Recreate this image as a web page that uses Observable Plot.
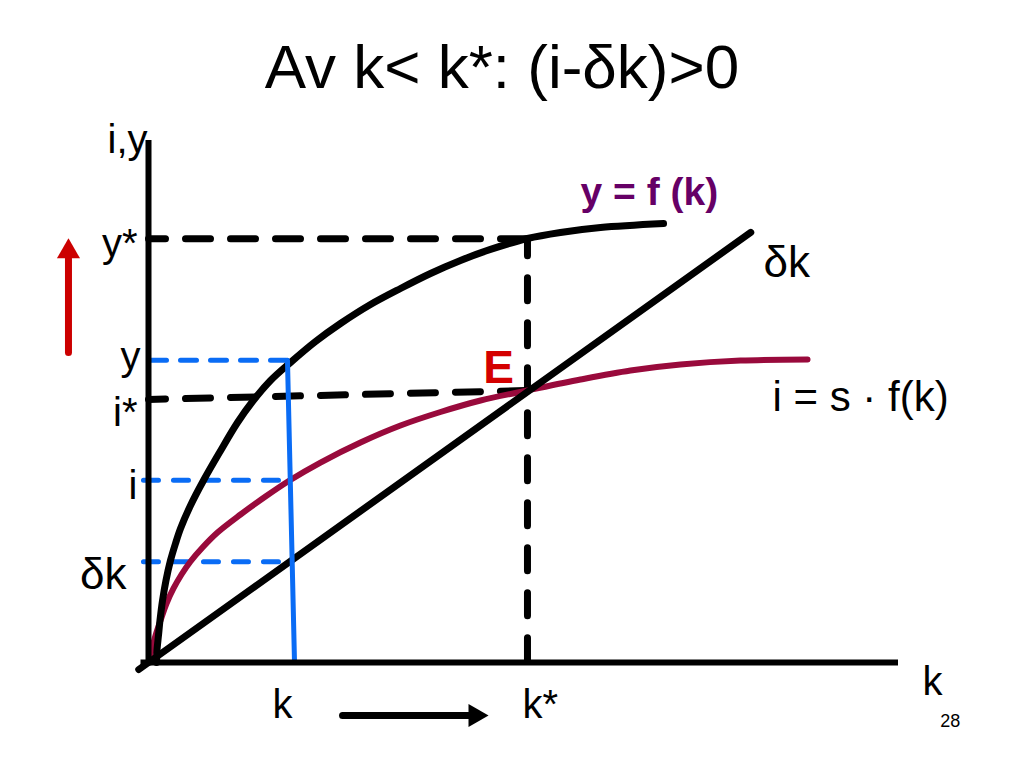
<!DOCTYPE html>
<html>
<head>
<meta charset="utf-8">
<script src="https://cdn.jsdelivr.net/npm/d3@7"></script>
<script src="https://cdn.jsdelivr.net/npm/@observablehq/plot@0.6"></script>
<style>
  body { margin: 0; background: #fff; font-family: "Liberation Sans", Arial, sans-serif; }
  #title { height: 110px; box-sizing: border-box; padding-top: 36px; padding-right: 20px;
           font-size: 62px; line-height: 62px; text-align: center; color: #000; white-space: nowrap; }
  #chart svg { display: block; }
</style>
</head>
<body>
<div id="title">Av k&lt; k*: (i-δk)&gt;0</div>
<div id="chart"></div>
<script>
// ---- data (k on x, i/y on y, arbitrary units) ----
const production = [[0.107,0],[0.113,0.23],[0.133,0.517],[0.153,0.805],[0.187,1.188],[0.233,1.571],[0.293,1.954],[0.36,2.28],[0.427,2.567],[0.56,3.008],[0.733,3.487],[0.947,4.023],[1.187,4.598],[1.387,5.0],[1.627,5.402],[1.893,5.747],[2.227,6.149],[2.56,6.494],[2.96,6.858],[3.36,7.165],[3.76,7.452],[4.16,7.701],[4.56,7.913],[5.053,8.123],[5.493,8.238],[6.027,8.333],[6.867,8.41]];
const investment = [[0,0],[0.04,0.23],[0.093,0.517],[0.16,0.805],[0.24,1.13],[0.333,1.418],[0.44,1.686],[0.56,1.935],[0.72,2.203],[0.92,2.49],[1.227,2.835],[1.56,3.18],[1.88,3.487],[2.293,3.831],[2.827,4.215],[3.36,4.54],[3.893,4.799],[4.427,5.019],[5.053,5.211],[5.76,5.421],[6.427,5.594],[7.093,5.709],[7.893,5.785],[8.787,5.805]];
const depreciation = [[-0.13,-0.134],[8.03,8.24]];

const kStar = 5.053, yStar = 8.12, iStarLeft = 5.04, iStarRight = 5.21;
const kNow = 1.853, kNowBase = 1.947;
const yNow = 5.79, iNow = 3.49, dkNow = 1.93;

const yTickLabels = ["y*", "y", "i*", "i", "δk"];
const yTickValues = [yStar, yNow, iStarLeft, iNow, dkNow];
const xTickLabels = ["k", "k*"];
const xTickValues = [kNow, kStar];

const labelDk = [{text: "δk", k: 8.2, v: 7.66}];
const labelInv = [{text: "i = s · f(k)", k: 8.32, v: 5.08}];
const labelProd = [{text: "y = f (k)", k: 5.76, v: 9.0}];
const labelE = [{text: "E", k: 4.667, v: 5.63}];
const pageNumber = [{text: "28", k: 10.69, v: -1.13}];
const axisNameX = [{text: "k", k: 10, v: 0}];
const axisNameY = [{text: "i,y", k: 0, v: 10}];

const arrowUpShaft = [[-1.067, 5.94], [-1.067, 7.74]];
const arrowUpHead = [[-1.067, 7.87]];
const arrowRightShaft = [[2.587, -1.015], [4.293, -1.015]];
const arrowRightHead = [[4.356, -1.015]];

const font = "Liberation Sans, Arial, sans-serif";
const X = d => d[0], Y = d => d[1];
const yLab = d => yTickLabels[yTickValues.indexOf(d)];
const xLab = d => xTickLabels[xTickValues.indexOf(d)];

const chart = Plot.plot({
  width: 1024,
  height: 658,
  marginLeft: 148,
  marginRight: 126,
  marginTop: 30,
  marginBottom: 106,
  x: {domain: [0, 10], axis: null},
  y: {domain: [0, 10], axis: null},
  style: {fontFamily: font, background: "white", overflow: "visible", color: "black"},
  marks: [
    // black dashed guides
    Plot.line([[0, yStar], [kStar, yStar]], {x: X, y: Y, stroke: "black", strokeWidth: 7, strokeDasharray: "25,20", strokeDashoffset: 8}),
    Plot.line([[0, iStarLeft], [kStar, iStarRight]], {x: X, y: Y, stroke: "black", strokeWidth: 7, strokeDasharray: "25,20", strokeDashoffset: 8}),
    Plot.line([[kStar, yStar], [kStar, 0]], {x: X, y: Y, stroke: "black", strokeWidth: 7, strokeDasharray: "23,22", strokeDashoffset: 6}),
    // blue dashed guides
    Plot.line([[0, yNow], [kNow, yNow]], {x: X, y: Y, stroke: "#0a6cf5", strokeWidth: 5, strokeDasharray: "16,14", strokeDashoffset: -2}),
    Plot.line([[-0.067, iNow], [1.8, iNow]], {x: X, y: Y, stroke: "#0a6cf5", strokeWidth: 5, strokeDasharray: "15,15"}),
    Plot.line([[-0.067, dkNow], [1.8, dkNow]], {x: X, y: Y, stroke: "#0a6cf5", strokeWidth: 5, strokeDasharray: "15,15"}),
    // curves
    Plot.line(investment, {x: X, y: Y, curve: "catmull-rom", stroke: "#990a3c", strokeWidth: 6}),
    Plot.line(depreciation, {x: X, y: Y, stroke: "black", strokeWidth: 7}),
    Plot.line(production, {x: X, y: Y, curve: "catmull-rom", stroke: "black", strokeWidth: 7}),
    // blue solid vertical at k
    Plot.line([[kNow, yNow], [kNowBase, 0]], {x: X, y: Y, stroke: "#0a6cf5", strokeWidth: 5}),
    // axes
    Plot.ruleX([0], {y1: -0.06, y2: 10, stroke: "black", strokeWidth: 6}),
    Plot.ruleY([0], {x1: -0.1, x2: 10, stroke: "black", strokeWidth: 6}),
    // y tick labels
    Plot.text(yTickValues, {filter: d => ["y*", "i"].includes(yLab(d)), x: 0, y: d => d, text: yLab, textAnchor: "end", dx: -11, dy: 6, fontSize: 40, fill: "black"}),
    Plot.text(yTickValues, {filter: d => yLab(d) === "y", x: 0, y: d => d, text: yLab, textAnchor: "end", dx: -8, dy: -3, fontSize: 40, fill: "black"}),
    Plot.text(yTickValues, {filter: d => yLab(d) === "i*", x: 0, y: d => d, text: yLab, textAnchor: "end", dx: -11, dy: 14, fontSize: 40, fill: "black"}),
    Plot.text(yTickValues, {filter: d => yLab(d) === "δk", x: 0, y: d => d, text: yLab, textAnchor: "end", dx: -22, dy: 13, fontSize: 44, fill: "black"}),
    // x tick labels
    Plot.text(xTickValues, {filter: d => xLab(d) === "k", x: d => d, y: 0, text: xLab, textAnchor: "middle", dx: -5, dy: 43, fontSize: 40, fill: "black"}),
    Plot.text(xTickValues, {filter: d => xLab(d) === "k*", x: d => d, y: 0, text: xLab, textAnchor: "start", dx: -5, dy: 43, fontSize: 40, fill: "black"}),
    // axis names
    Plot.text(axisNameX, {x: "k", y: "v", text: "text", textAnchor: "start", dx: 24, dy: 20, fontSize: 40, fill: "black"}),
    Plot.text(axisNameY, {x: "k", y: "v", text: "text", textAnchor: "end", dx: -1, dy: 0, fontSize: 40, fill: "black"}),
    // annotations
    Plot.text(labelDk, {x: "k", y: "v", text: "text", textAnchor: "start", fontSize: 44, fill: "black"}),
    Plot.text(labelInv, {x: "k", y: "v", text: "text", textAnchor: "start", fontSize: 42, fill: "black"}),
    Plot.text(labelProd, {x: "k", y: "v", text: "text", textAnchor: "start", fontSize: 39, fontWeight: "bold", fill: "#660066"}),
    Plot.text(labelE, {x: "k", y: "v", text: "text", textAnchor: "middle", fontSize: 46, fontWeight: "bold", fill: "#d40000"}),
    Plot.text(pageNumber, {x: "k", y: "v", text: "text", textAnchor: "middle", fontSize: 18, fill: "black"}),
    // arrows
    Plot.line(arrowUpShaft, {x: X, y: Y, stroke: "#cc0000", strokeWidth: 7}),
    Plot.dot(arrowUpHead, {x: X, y: Y, symbol: "triangle", r: 8.6, fill: "#cc0000", stroke: "none"}),
    Plot.line(arrowRightShaft, {x: X, y: Y, stroke: "black", strokeWidth: 7}),
    Plot.dot(arrowRightHead, {x: X, y: Y, symbol: "triangle", r: 8.6, rotate: 90, fill: "black", stroke: "none"})
  ]
});
document.getElementById("chart").appendChild(chart);
</script>
</body>
</html>
